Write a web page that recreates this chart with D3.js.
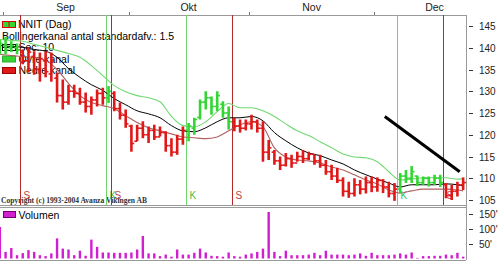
<!DOCTYPE html>
<html><head><meta charset="utf-8">
<script src="https://cdn.jsdelivr.net/npm/d3@7"></script>
<style>body{margin:0;background:#fff;} svg{display:block;font-family:"Liberation Sans",Arial,sans-serif;}</style>
</head><body><svg id="c" width="500" height="264"></svg>
<script>
// ---- data (daily, Aug 31 2004 .. Dec 22 2004) ----
const openP = [139.5,140.5,140,140,139,137,138,135,137,134, 133,129,127.5,130,129.5,127.5,126.5,128,129.5,128.5,
  129.5,126,124.5,122,118.5,121.5,120,121,119.5,120.5, 117.5,116,119,121,121.5,124,127.5,128.5,126.5,127,
  125,123,122,121.5,122.5,123,121.5,116,116,114, 113,114.5,113.5,115,114.5,115.5,114,113,111.5,110.5,
  109.5,107,106.5,108.5,107.5,109,108,109.5,108,106.5, 107.5,110.5,110,110.5,109,110,109,110,108.5,106, 107,108.5];
const highP = [141.8,142.5,141.5,141,139.6,140.1,139.2,138.9,139.2,138.9, 134.3,132.7,131.5,131.5,130.8,129.7,128.8,130.4,130.8,131.2,
  130,127.4,125.8,122.3,122.3,123.1,121.9,122.3,121.9,120.8, 119.2,120,121.9,122.7,123.9,128.1,130,128.8,130,127.7,
  126.5,123.9,123.5,123.5,124.6,123.5,123.1,118.8,116.5,115, 115.8,115.4,116.1,116.5,116.1,115.4,115.4,114.2,113.1,112.4,
  110.2,109.2,110,109.6,110.4,110.4,110.2,109.8,109.2,108.9, 111.2,111.9,112.8,110.6,110.4,110.4,110.8,110.8,108.9,108.5, 109.2,110.2];
const lowP = [138.5,138.5,139,138.5,136.2,134.3,133.8,132.2,133.2,132.2, 127.4,125.8,126.9,128.5,126.9,125.1,124.6,126.5,126.9,127.3,
  125.4,123.5,121.6,116.1,118.5,119.2,118.1,118.8,119.6,116.1, 115,115.4,117.7,118.5,120,123.5,125.8,124.6,125.4,123.9,
  121.2,120.8,120.5,121,121.2,120.5,113.8,114.2,113.1,111.9, 112.7,112.4,113.8,113.5,114.2,113.1,112.4,110.8,109.6,108.9,
  105.8,105.5,105.8,106.3,106.5,106.8,106.9,106.6,105.6,104.8, 106.5,108.9,108.9,108.2,108.5,108.1,108.5,108,105.4,105, 105.8,107.3];
const closeP = [141,139.5,140.5,139.5,137,139,135,137.5,134.5,137, 129,127.5,130,129.5,127.5,126.5,128,129.5,128.5,130,
  126,124.5,122.5,118,121.5,120,121,119.5,120.5,117.5, 116,119,121,122,123.5,127.5,128.5,126.5,129,125,
  123,122,121.5,122.5,123,121.5,116,117,114,113, 114.5,113.5,115,114.5,115.5,114,113,111.5,110.5,109.5,
  107,106.5,108.5,107.5,109,108,109.5,108,106.5,107.5, 110.5,110,111.5,109,110,109,110,109,106,107, 108.5,109];
const volumeK = [105,22,35,11,18,28,22,11,8,17, 67,33,30,11,26,9,63,39,20,20,
  19,19,19,20,30,75,17,17,8,13, 6,30,13,13,19,33,20,9,8,6,
  20,8,6,13,17,22,33,155,22,8, 26,11,11,11,13,19,11,26,13,13,
  13,11,13,17,9,19,11,11,11,13, 17,13,20,2,8,8,9,9,13,11, 19,6];
// Bollinger channel read every second day (+ last day)
const bandDay = [0,2,4,6,8,10,12,14,16,18,20,22,24,26,28,30,32,34,36,38,40,42,44,46,48,50,52,54,56,58,60,62,64,66,68,70,72,74,76,78,80,81];
const upperBand = [141.9,141.7,141.5,140.8,140.1,139.4,138.7,137.8,135.9,133.6, 131.3,129.9,129.0,128.5,127.6,124.2,122.1,121.8,123.0,125.3,
  127.2,126.2,126.2,125.5,124.2,122.5,120.9,119.8,118.4,117.0, 115.6,114.9,114.7,113.8,111.5,109.6,109.8,110.1,110.1,110.1, 109.8,109.8];
const midBand = [140.5,140.3,140.1,139.6,139.2,137.8,135.2,133.2,131.5,130.2, 128.3,126.9,125.5,124.8,123.9,122.1,120.9,120.7,121.6,123.0,
  123.9,123.9,124.2,123.2,120.5,118.6,117.0,115.8,115.2,114.2, 113.3,111.9,110.8,109.8,108.9,108.0,108.5,108.5,108.5,108.7, 108.5,108.2];
const lowerBand = [138.5,138.2,138.0,137.8,137.1,135.0,131.8,129.0,127.4,126.7, 126.0,124.4,122.8,121.6,120.9,120.2,119.5,119.3,119.1,119.5,
  120.9,122.3,123.0,121.8,117.0,114.9,114.2,114.0,113.5,112.6, 111.9,110.8,109.6,108.7,107.3,106.6,107.1,107.5,107.5,107.5, 107.3,107.1];
const signalDay = [4,19,20,33,41,70,78];
const signalType = ["S","K","S","K","S","K","S"];
const monthNames = ["Sep","Okt","Nov","Dec"];
const monthStart = [1,23,44,66];
const monthEnd = [23,44,66,87];
const priceTicks = [105,110,115,120,125,130,135,140,145];
const volTicks = [50,100,150];
const trendDay = [67.3,80.4];
const trendPrice = [124.2,111.5];

// ---- drawing ----
const svg = d3.select("#c");
const PL = 0, PR = 466, PT = 15, PB = 205, VT = 207, VB = 260;
const x = d3.scaleLinear().domain([-0.5, 81.5]).range([-3, 466]);
const y = d3.scaleLinear().domain([105,145]).range([200,26]);
const yv = d3.scaleLinear().domain([0,150]).range([258.5,213.5]);
const RED = "#e01818", GREEN = "#33d633";

svg.append("rect").attr("width",500).attr("height",264).attr("fill","#fff");
const defs = svg.append("defs");
defs.append("clipPath").attr("id","cp").append("rect").attr("x",PL).attr("y",PT).attr("width",PR-PL).attr("height",PB-PT);
defs.append("clipPath").attr("id","cv").append("rect").attr("x",PL).attr("y",VT).attr("width",PR-PL).attr("height",VB-VT);

// panel frames
svg.append("line").attr("x1",0).attr("x2",PR).attr("y1",PT+0.5).attr("y2",PT+0.5).attr("stroke","#9a9a9a");
svg.append("line").attr("x1",PR+0.5).attr("x2",PR+0.5).attr("y1",PT).attr("y2",VB).attr("stroke","#9a9a9a");
svg.append("line").attr("x1",0).attr("x2",PR).attr("y1",PB+0.5).attr("y2",PB+0.5).attr("stroke","#9a9a9a");
svg.append("line").attr("x1",0).attr("x2",PR).attr("y1",VT+0.5).attr("y2",VT+0.5).attr("stroke","#9a9a9a");
svg.append("line").attr("x1",0).attr("x2",PR).attr("y1",VB+0.5).attr("y2",VB+0.5).attr("stroke","#9a9a9a");

// month axis
monthStart.forEach((s,k)=>{
  const tx = Math.round(x(s-0.5))+0.5;
  svg.append("line").attr("x1",tx).attr("x2",tx).attr("y1",PT-3).attr("y2",PT).attr("stroke","#777");
  svg.append("text").attr("x",x((s+monthEnd[k])/2-0.5)).attr("y",11).attr("text-anchor","middle")
    .attr("font-size","10.5px").attr("fill","#222").text(monthNames[k]);
});

// right axes
priceTicks.forEach(t=>{
  const ty = Math.round(y(t))+0.5;
  svg.append("line").attr("x1",469).attr("x2",473).attr("y1",ty).attr("y2",ty).attr("stroke","#333");
  svg.append("text").attr("x",479).attr("y",ty+3.5).attr("font-size","10px").attr("fill","#222").text(t);
});
volTicks.forEach(t=>{
  const ty = Math.round(yv(t))+0.5;
  svg.append("line").attr("x1",469).attr("x2",473).attr("y1",ty).attr("y2",ty).attr("stroke","#333");
  svg.append("text").attr("x",479).attr("y",ty+3.5).attr("font-size","10px").attr("fill","#222").text(t+"'");
});

// legend (drawn under the marks)
const lg = svg.append("g").attr("font-size","10.5px").attr("fill","#000");
lg.append("rect").attr("x",2.5).attr("y",21.5).attr("width",13).attr("height",6).attr("fill",GREEN).attr("stroke","#d00");
lg.append("line").attr("x1",9).attr("x2",9).attr("y1",21.5).attr("y2",27.5).attr("stroke","#d00");
lg.append("text").attr("x",18).attr("y",28).text("NNIT (Dag)");
lg.append("text").attr("x",2).attr("y",39.5).text("Bollingerkanal antal standardafv.: 1.5");
lg.append("rect").attr("x",2.5).attr("y",44.5).attr("width",13).attr("height",6).attr("fill","#fff").attr("stroke","#000");
lg.append("line").attr("x1",3).attr("x2",15).attr("y1",47.5).attr("y2",47.5).attr("stroke","#000");
lg.append("text").attr("x",18.5).attr("y",51).text("Sec: 10");
lg.append("rect").attr("x",2.5).attr("y",56).attr("width",13).attr("height",6).attr("fill",GREEN).attr("stroke","#3a3");
lg.append("text").attr("x",18.5).attr("y",62.5).text("Övre kanal");
lg.append("rect").attr("x",2.5).attr("y",67.5).attr("width",13).attr("height",6).attr("fill",RED).attr("stroke","#900");
lg.append("text").attr("x",18.5).attr("y",74).text("Nedre kanal");

// copyright
svg.append("text").attr("x",1).attr("y",202.5).attr("font-family","'Liberation Serif',serif").attr("font-weight","bold")
  .attr("font-size","7.5px").attr("fill","#333").attr("textLength",146).attr("lengthAdjust","spacingAndGlyphs")
  .text("Copyright (c) 1993-2004 Avanza Vikingen AB");

const pg = svg.append("g").attr("clip-path","url(#cp)");
// signal lines
signalDay.forEach((d,k)=>{
  const sx = Math.round(x(d-0.5))+0.5;
  const col = signalType[k]==="K" ? "#6cd66c" : "#b82828";
  pg.append("line").attr("x1",sx).attr("x2",sx).attr("y1",PT).attr("y2",PB).attr("stroke",col).attr("stroke-width",1);
  pg.append("text").attr("x",sx+3).attr("y",199).attr("font-size","10px").attr("fill",signalType[k]==="K"?"#44c044":"#c04040").text(signalType[k]);
});

// Bollinger lines
const bandLine = vals => d3.line().x((d,i)=>x(bandDay[i])).y(d=>y(d)).curve(d3.curveMonotoneX)(vals);
pg.append("path").attr("d",bandLine(upperBand)).attr("fill","none").attr("stroke","#70d870").attr("stroke-width",1.1);
pg.append("path").attr("d",bandLine(lowerBand)).attr("fill","none").attr("stroke","#b06060").attr("stroke-width",1.1);
pg.append("path").attr("d",bandLine(midBand)).attr("fill","none").attr("stroke","#000").attr("stroke-width",1);

// bar colours from signals (K = buy -> green, S = sell -> red); position before first signal is "K"
let state = "K";
const barCol = highP.map((_,i)=>{
  const k = signalDay.indexOf(i);
  if (k>=0) state = signalType[k];
  return state==="K" ? GREEN : RED;
});
const bars = pg.append("g");
highP.forEach((h,i)=>{
  const cx = x(i);
  bars.append("line").attr("x1",cx).attr("x2",cx).attr("y1",y(h)).attr("y2",y(lowP[i])).attr("stroke",barCol[i]).attr("stroke-width",2.6);
  bars.append("line").attr("x1",cx-2.8).attr("x2",cx).attr("y1",y(openP[i])).attr("y2",y(openP[i])).attr("stroke",barCol[i]).attr("stroke-width",1.6);
  bars.append("line").attr("x1",cx).attr("x2",cx+2.8).attr("y1",y(closeP[i])).attr("y2",y(closeP[i])).attr("stroke",barCol[i]).attr("stroke-width",1.6);
});

// trend line
pg.append("line").attr("x1",x(trendDay[0])).attr("y1",y(trendPrice[0])).attr("x2",x(trendDay[1])).attr("y2",y(trendPrice[1]))
  .attr("stroke","#000").attr("stroke-width",3);

// volume
svg.append("rect").attr("x",3.5).attr("y",211.5).attr("width",12).attr("height",6).attr("fill","#d020d0").attr("stroke","#700070");
svg.append("text").attr("x",18.5).attr("y",219).attr("font-size","10.5px").attr("fill","#000").text("Volumen");
const vg = svg.append("g").attr("clip-path","url(#cv)");
volumeK.forEach((v,i)=>{
  vg.append("rect").attr("x",x(i)-1.2).attr("width",2.4).attr("y",yv(v)).attr("height",yv(0)-yv(v)).attr("fill","#d01ed0");
});
</script></body></html>
